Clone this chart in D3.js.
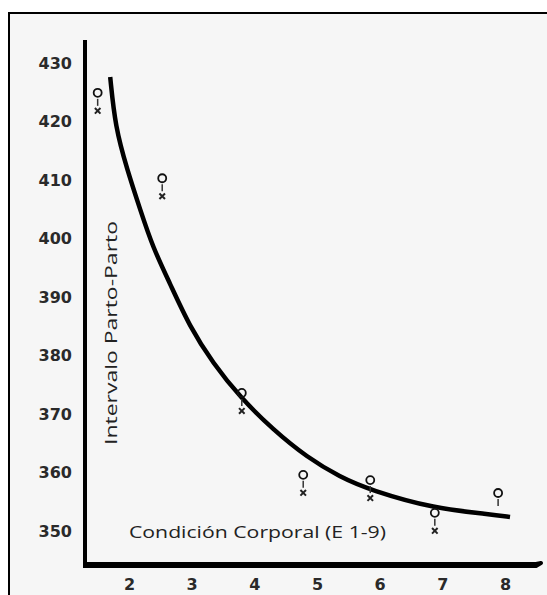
<!DOCTYPE html>
<html lang="es">

<head>
  <title>Intervalo Parto-Parto</title>
  <script src="https://cdn.jsdelivr.net/npm/d3@7"></script>
  <style>
    body { margin: 0; background: #fff; }
    .tick text { font-family: "DejaVu Sans", sans-serif; font-weight: bold; font-size: 16px; fill: #2a2a2a; }
    .title { font-family: "Open Sans", sans-serif; fill: #222; }
  </style>
</head>

<body>
  <script>
    // observed points (condicion corporal, intervalo en dias)
    var pointX = [1.5, 2.53, 3.80, 4.78, 5.85, 6.88, 7.89];
    var pointY = [424.9, 410.3, 373.6, 359.6, 358.7, 353.1, 356.5];
    // fitted curve
    var curveX = [1.70, 1.78, 1.97, 2.18, 2.38, 2.65, 2.97, 3.34, 3.77, 4.30, 4.84, 5.37, 5.85, 6.88, 7.76, 8.08];
    var curveY = [427.6, 419.1, 411.8, 404.9, 398.5, 392.4, 384.9, 378.7, 372.9, 367.3, 362.6, 359.2, 357.0, 353.8, 352.9, 352.4];
    var xTicks = [2, 3, 4, 5, 6, 7, 8];
    var yTicks = [350, 360, 370, 380, 390, 400, 410, 420, 430];

    var w = 547;
    var h = 595;
    var axisX = 85;   // y axis line position
    var axisY = 564;  // x axis line position

    var x = d3.scaleLinear().domain([2, 8]).range([129, 505]);
    var y = d3.scaleLinear().domain([350, 430]).range([531, 63]);

    var svg = d3.select("body").append("svg")
      .attr("width", w)
      .attr("height", h);

    // paper frame
    svg.append("rect")
      .attr("x", 9).attr("y", 13)
      .attr("width", w).attr("height", h)
      .attr("fill", "#f6f6f6");
    svg.append("path")
      .attr("d", "M9," + h + "V13H" + w)
      .attr("fill", "none")
      .attr("stroke", "#000")
      .attr("stroke-width", 2);

    // axes
    svg.append("g")
      .attr("transform", "translate(" + axisX + ",0)")
      .call(d3.axisLeft(y).tickValues(yTicks).tickFormat(d3.format("d")).tickSize(0).tickPadding(13))
      .call(function (g) { g.select(".domain").remove(); });
    svg.append("g")
      .attr("transform", "translate(0," + axisY + ")")
      .call(d3.axisBottom(x).tickValues(xTicks).tickFormat(d3.format("d")).tickSize(0).tickPadding(15))
      .call(function (g) { g.select(".domain").remove(); });

    svg.append("line")
      .attr("x1", axisX).attr("x2", axisX)
      .attr("y1", 40).attr("y2", axisY + 2)
      .attr("stroke", "#000").attr("stroke-width", 4);
    svg.append("path")
      .attr("d", "M" + (axisX - 2) + "," + axisY + "H536L541," + (axisY - 1) + "L536," + (axisY + 2) + "H" + (axisX - 2))
      .attr("fill", "none")
      .attr("stroke", "#000").attr("stroke-width", 4)
      .attr("stroke-linejoin", "round");

    // titles
    svg.append("text")
      .classed("title", true)
      .attr("transform", "translate(117,333) rotate(-90)")
      .attr("text-anchor", "middle")
      .attr("font-size", 16)
      .attr("textLength", 224)
      .attr("lengthAdjust", "spacingAndGlyphs")
      .text("Intervalo Parto-Parto");
    svg.append("text")
      .classed("title", true)
      .attr("x", 129).attr("y", 538)
      .attr("font-size", 17)
      .attr("textLength", 257)
      .attr("lengthAdjust", "spacingAndGlyphs")
      .text("Condición Corporal (E 1-9)");

    // curve
    var line = d3.line()
      .x(function (d) { return x(d[0]); })
      .y(function (d) { return y(d[1]); })
      .curve(d3.curveBasis);
    svg.append("path")
      .datum(d3.zip(curveX, curveY))
      .attr("d", line)
      .attr("fill", "none")
      .attr("stroke", "#000")
      .attr("stroke-width", 4.5)
      .attr("stroke-linecap", "butt");

    // points: small ring with a mark below
    var pts = svg.selectAll(".pt")
      .data(d3.zip(pointX, pointY))
      .enter()
      .append("g")
      .classed("pt", true)
      .attr("transform", function (d) { return "translate(" + x(d[0]) + "," + y(d[1]) + ")"; });
    pts.append("circle")
      .attr("r", 4)
      .attr("fill", "none")
      .attr("stroke", "#111")
      .attr("stroke-width", 1.8);
    pts.append("line")
      .attr("y1", 6).attr("y2", 13)
      .attr("stroke", "#333").attr("stroke-width", 1.5);
    pts.filter(function (d, i) { return i < pointX.length - 1; })
      .append("path")
      .attr("transform", "translate(0,18)")
      .attr("d", d3.symbol().type(d3.symbolTimes || d3.symbolX).size(22))
      .attr("fill", "none")
      .attr("stroke", "#222")
      .attr("stroke-width", 2);
  </script>
</body>

</html>
